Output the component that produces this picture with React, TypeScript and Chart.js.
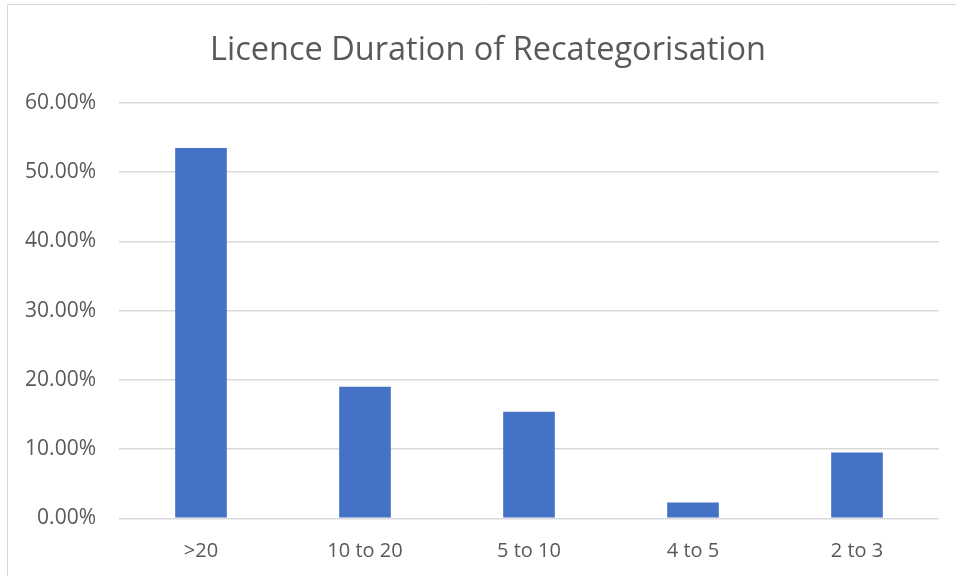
import React, { useEffect, useRef } from "react";
import { Chart, registerables } from "chart.js";

Chart.register(...registerables);

const categories = [">20", "10 to 20", "5 to 10", "4 to 5", "2 to 3"];
const values = [53.5, 19.0, 15.4, 2.3, 9.5];
const yTicks = [0, 10, 20, 30, 40, 50, 60];
const title = "Licence Duration of Recategorisation";

const FONT = "'Open Sans', sans-serif";
const TEXT = "#595959";
const GRID = "#d9d9d9";

const borderPlugin = {
  id: "outerBorder",
  beforeDraw(chart: any) {
    const ctx = chart.ctx;
    ctx.save();
    ctx.strokeStyle = "#d9d9d9";
    ctx.lineWidth = 1;
    ctx.beginPath();
    ctx.moveTo(7.5, chart.height);
    ctx.lineTo(7.5, 4.5);
    ctx.lineTo(chart.width, 4.5);
    ctx.stroke();
    ctx.restore();
  },
};

const titlePlugin = {
  id: "customTitle",
  afterDraw(chart: any) {
    const ctx = chart.ctx;
    ctx.save();
    ctx.fillStyle = TEXT;
    ctx.font = "32.5px " + FONT;
    ctx.textAlign = "center";
    ctx.textBaseline = "alphabetic";
    ctx.fillText(title, 488, 60);
    ctx.restore();
  },
};

export default function App() {
  const ref = useRef<HTMLCanvasElement | null>(null);
  useEffect(() => {
    document.body.style.margin = "0";
    const chart = new Chart(ref.current as HTMLCanvasElement, {
      type: "bar",
      data: {
        labels: categories,
        datasets: [
          {
            data: values,
            backgroundColor: "#4472c4",
            barPercentage: 0.315,
            categoryPercentage: 1,
          },
        ],
      },
      options: {
        animation: false,
        responsive: false,
        layout: { padding: { left: 0, right: 17, top: 103, bottom: 0 } },
        plugins: {
          legend: { display: false },
          tooltip: { enabled: false },
          title: { display: false },
        },
        scales: {
          x: {
            grid: { display: false, drawTicks: false },
            border: { display: false },
            ticks: {
              color: TEXT,
              font: { family: FONT, size: 20 },
              padding: 21,
            },
            afterFit: (scale: any) => {
              scale.height = 57.7;
            },
          },
          y: {
            min: 0,
            max: 60,
            afterBuildTicks: (scale: any) => {
              scale.ticks = yTicks.map((v) => ({ value: v }));
            },
            grid: { color: GRID, lineWidth: 1.5, drawTicks: false },
            border: { display: false },
            ticks: {
              color: TEXT,
              font: { family: FONT, size: 21 },
              padding: 23,
              callback: (v: any) => Number(v).toFixed(2) + "%",
            },
            afterFit: (scale: any) => {
              scale.width = 119;
            },
          },
        },
      },
      plugins: [borderPlugin, titlePlugin],
    });
    return () => chart.destroy();
  }, []);
  return (
    <div style={{ position: "absolute", left: 0, top: 0, width: 956, height: 576 }}>
      <canvas ref={ref} width={956} height={576} />
    </div>
  );
}
